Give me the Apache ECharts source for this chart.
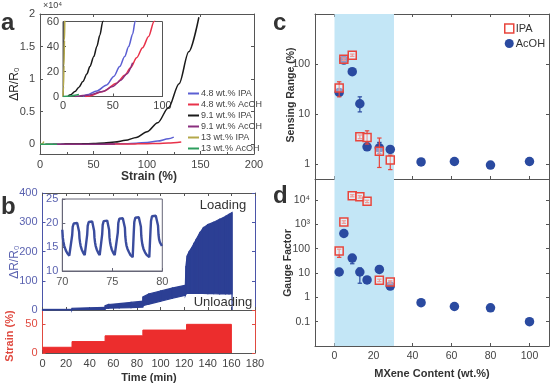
<!DOCTYPE html>
<html><head><meta charset="utf-8">
<script src="https://cdn.jsdelivr.net/npm/echarts@6/dist/echarts.min.js"></script>
<style>html,body{margin:0;padding:0;background:#fff}#c{width:556px;height:386px}</style>
</head><body><div id="c"></div>
<script>
// ---------------- data ----------------
// panel a : strain (%) vs dR/R0
const legendA = ['4.8 wt.% IPA','4.8 wt.% AcOH','9.1 wt.% IPA','9.1 wt.% AcOH','13 wt.% IPA','13 wt.% AcOH'];
const a48IPA  = [[20,0],[24,1.4],[34,4.5],[44,9.3],[51,16],[57,24],[62,32],[66,40],[70,50],[72.5,60],[80,93],[90,160],[100,280],[110,480],[120,830],[125,1100]];
const a48AcOH = [[22,0],[27,0.5],[40,4],[54,10.7],[62,17],[68,23],[74,31],[80,39],[86,48],[91.5,60],[100,85],[110,130],[120,200],[132,350]];
const a91IPA  = [[5,0.5],[8,1.5],[12,4],[16,7.5],[20,12],[24,18],[27,24],[31,32],[34,40],[37,49],[40,60],[50,110],[60,200],[70,340],[80,600],[90,1050],[100,1900],[110,3300],[120,5600],[130,9300],[139,14200],[148.5,19500]];
const a91AcOH = [[12,0],[25,1],[40,4],[50,8],[58,13],[64,18],[70,27]];
const a13IPA  = [[0,0],[0.5,8],[1,25],[1.5,45],[2,70],[2.7,150],[3.5,420]];
const a13AcOH = [[0,0],[4,0.2],[8,0.5],[12,1],[16,1.6]];

// panel b : cyclic test, envelope of dR/R0 (loading / unloading) vs time (min)
const bTime  = [0, 24.9, 25, 53, 53.1, 56, 65, 75, 85, 85.1, 90, 100, 110, 121, 121.5, 122.5, 124, 126, 128, 130, 133, 136, 140, 145, 150, 155, 158, 160.5, 160.6];
const bUpper = [2, 2, 6, 9, 15, 19, 22, 26, 30, 45, 55, 65, 75, 85, 150, 185, 198, 210, 225, 240, 262, 280, 292, 300, 310, 320, 327, 333, 0];
const bLower = [0, 0, 1, 2, 5, 6, 7, 8, 10, 15, 20, 30, 40, 50, 55, 57, 57, 57, 57, 57, 57, 57, 56, 56, 55, 55, 55, 55, 0];
const strainT = [0, 25, 53, 85, 122, 160];
const strainV = [10, 20, 30, 40, 50, 0];
// inset b (70-80 min)
const insetT = [70.0,70.05,70.1,70.2,70.35,70.5,70.7,70.9,
 70.94,70.99,71.04,71.14,71.29,71.49,71.62,71.68,71.72,71.77,71.84,71.94,72.09,72.24,72.39,
 72.44,72.49,72.54,72.64,72.79,72.99,73.12,73.18,73.22,73.27,73.34,73.44,73.59,73.74,73.89,
 73.94,73.99,74.04,74.14,74.29,74.49,74.62,74.68,74.72,74.77,74.84,74.94,75.09,75.24,75.44,
 75.5,75.55,75.6,75.7,75.85,76.05,76.2,76.26,76.3,76.35,76.42,76.52,76.67,76.82,77.04,
 77.1,77.15,77.2,77.3,77.45,77.65,77.8,77.86,77.9,77.95,78.02,78.12,78.27,78.45,78.7,
 78.77,78.82,78.87,78.97,79.12,79.35,79.5,79.57,79.62,79.68,79.76,79.86,79.96];
const insetV = [18.6,17.0,16.2,15.2,14.3,13.7,13.2,12.9,
 13.0,17.5,19.2,19.9,20.0,20.0,19.6,18.2,16.8,16.0,15.2,14.5,13.8,13.3,13.0,
 12.9,17.6,19.4,20.2,20.3,20.3,19.9,18.4,16.9,16.0,15.2,14.5,13.8,13.3,12.9,
 12.9,17.7,19.6,20.4,20.5,20.5,20.1,18.6,17.0,16.1,15.3,14.5,13.8,13.3,12.9,
 12.9,18.0,20.0,20.9,21.0,21.0,20.6,19.0,17.2,16.2,15.3,14.6,13.9,13.3,12.9,
 12.9,18.2,20.2,21.1,21.2,21.2,20.8,19.2,17.3,16.3,15.4,14.6,13.9,13.3,12.9,
 12.9,18.4,20.4,21.4,21.5,21.5,21.1,19.5,17.6,16.6,16.0,15.6,15.2];

// panels c, d : MXene content (wt.%)
const mxIPA   = [2.4, 4.8, 9.1, 13, 16.7, 23, 28.6];
const srIPA   = [33, 125, 150, 3.5, 3.4, 1.8, 1.2];
const srIPAlo = [22, 118, 142, 3.2, 2.5, 0.85, 0.77];
const srIPAhi = [44, 132, 158, 3.8, 4.6, 3.3, 1.5];
const gfIPA   = [80, 1250, 15000, 13500, 8800, 5, 4.3];
const gfIPAlo = [44, 1100, 13500, 12000, 7800, 4.4, 3.8];
const gfIPAhi = [95, 1400, 16500, 15000, 9800, 5.6, 4.8];
const mxAcOH  = [2.4, 4.8, 9.1, 13, 16.7, 23, 28.6, 44.4, 61.5, 80, 100];
const srAcOH  = [27, 120, 70, 16, 2.2, 2.1, 1.95, 1.1, 1.12, 0.95, 1.12];
const srAcOHlo= [24, 115, 66, 11, 2.0, 1.6, 1.75, 1.0, 1.02, 0.88, 1.0];
const srAcOHhi= [30, 125, 74, 22, 2.4, 2.7, 2.2, 1.2, 1.22, 1.02, 1.3];
const gfAcOH  = [11, 420, 41, 11, 5.2, 14, 2.9, 0.6, 0.42, 0.37, 0.1];
const gfAcOHlo= [10, 390, 24, 3.8, 4.8, 13, 2.7, 0.56, 0.4, 0.35, 0.095];
const gfAcOHhi= [12, 450, 45, 16, 5.6, 15, 3.1, 0.64, 0.44, 0.39, 0.105];
const shadeRange = [0, 30.5];

// ---------------- helpers ----------------
const FONT = '"Liberation Sans", "DejaVu Sans", Arial, sans-serif';
const TXT = '#444', AX = '#555', BLUE = '#2c3f94', BLUEL = '#5a62b0', RED = '#ec2d2d', IPAC = '#e8453c', ACC = '#2a4aa0';
function merge(a, b) {
  const r = Object.assign({}, a);
  for (const k in b) {
    if (b[k] && typeof b[k] === 'object' && !Array.isArray(b[k]) && a[k] && typeof a[k] === 'object') r[k] = merge(a[k], b[k]);
    else r[k] = b[k];
  }
  return r;
}
function ax(o, col) {
  col = col || AX;
  return merge({
    type: 'value', splitLine: { show: false },
    axisLine: { show: true, onZero: false, lineStyle: { color: col, width: 1 } },
    axisTick: { show: true, inside: true, length: 3, lineStyle: { color: col } },
    axisLabel: { color: TXT, fontSize: 11, fontFamily: FONT, margin: 5 }
  }, o);
}
function logLab(v) {
  const e = Math.round(Math.log10(v));
  if (e >= 3) return '10' + (e === 3 ? '³' : '⁴');
  if (e >= 0) return String(Math.pow(10, e));
  return e === -1 ? '0.1' : '0.01';
}
function errBar(color) {
  return function (params, api) {
    const x = api.value(0), lo = api.value(1), hi = api.value(2);
    const p1 = api.coord([x, lo]), p2 = api.coord([x, hi]);
    const w = 2.2, st = { stroke: color, lineWidth: 1.2 };
    return { type: 'group', children: [
      { type: 'line', shape: { x1: p1[0], y1: p1[1], x2: p2[0], y2: p2[1] }, style: st },
      { type: 'line', shape: { x1: p1[0] - w, y1: p1[1], x2: p1[0] + w, y2: p1[1] }, style: st },
      { type: 'line', shape: { x1: p2[0] - w, y1: p2[1], x2: p2[0] + w, y2: p2[1] }, style: st }
    ] };
  };
}
function zip3(x, a, b) { return x.map((v, i) => [v, a[i], b[i]]); }
function zip2(x, a) { return x.map((v, i) => [v, a[i]]); }

const gridBase = { outerBoundsMode: 'none', containLabel: false };
const grid = [
  merge(gridBase, { left: 40, top: 14, width: 214, height: 140 }),
  merge(gridBase, { left: 63, top: 21.5, width: 99.5, height: 75, show: true, borderColor: AX, borderWidth: 1 }),
  merge(gridBase, { left: 42.5, top: 193, width: 212.5, height: 117 }),
  merge(gridBase, { left: 42.5, top: 310, width: 212.5, height: 43 }),
  merge(gridBase, { left: 62.3, top: 199, width: 100, height: 72, show: true, borderColor: '#667', borderWidth: 1 }),
  merge(gridBase, { left: 315, top: 14, width: 234, height: 165 }),
  merge(gridBase, { left: 315, top: 179, width: 234, height: 167 })
];
const noLab = { axisLabel: { show: false } };
const xAxis = [
  ax({ gridIndex: 0, min: 0, max: 200, interval: 50, minorTick: { show: true, splitNumber: 2, length: 2 } }),
  ax(merge({ gridIndex: 0, position: 'top', min: 0, max: 200, interval: 50 }, noLab)),
  ax({ gridIndex: 1, min: 0, max: 100, interval: 50, axisLabel: { margin: 4 } }),
  ax(merge({ gridIndex: 2, min: 0, max: 180, interval: 20 }, noLab)),
  ax(merge({ gridIndex: 2, position: 'top', min: 0, max: 180, interval: 20 }, noLab)),
  ax({ gridIndex: 3, min: 0, max: 180, interval: 20 }),
  ax({ gridIndex: 4, min: 70, max: 80, interval: 5, axisLabel: { color: '#555', margin: 5 } }, '#667'),
  ax(merge({ gridIndex: 5, min: -10, max: 110 }, noLab)),
  ax(merge({ gridIndex: 5, position: 'top', min: -10, max: 110 }, noLab)),
  ax({ gridIndex: 6, min: -10, max: 110, axisLabel: { showMinLabel: false, showMaxLabel: false, fontSize: 10.5 } })
];
const logAx = (o) => ax(merge({ type: 'log', logBase: 10, axisLabel: { formatter: logLab, showMinLabel: false, showMaxLabel: false, fontSize: 10.5 } }, o));
const yAxis = [
  ax({ gridIndex: 0, min: -1500, max: 20000, axisLabel: { formatter: v => String(v / 10000), showMinLabel: false } }),
  ax(merge({ gridIndex: 0, position: 'right', min: -1500, max: 20000 }, noLab)),
  ax({ gridIndex: 1, min: 0, max: 60, interval: 20, axisLabel: { margin: 4 } }),
  ax({ gridIndex: 2, min: 0, max: 400, interval: 100, axisLabel: { color: BLUEL } }, '#4b55a8'),
  ax(merge({ gridIndex: 2, position: 'right', min: 0, max: 400, interval: 100 }, noLab), '#4b55a8'),
  ax({ gridIndex: 3, min: 0, max: 75, interval: 50, axisLabel: { color: '#e04a40', showMaxLabel: false } }, '#e04a40'),
  ax(merge({ gridIndex: 3, position: 'right', min: 0, max: 75, interval: 50 }, noLab), '#e04a40'),
  ax({ gridIndex: 4, min: 10, max: 25, interval: 5, axisLabel: { color: BLUEL, margin: 4 } }, '#667'),
  logAx({ gridIndex: 5, min: 0.5, max: 1000 }),
  logAx(merge({ gridIndex: 5, position: 'right', min: 0.5, max: 1000 }, noLab)),
  logAx({ gridIndex: 6, min: 0.01, max: 73000 }),
  logAx(merge({ gridIndex: 6, position: 'right', min: 0.01, max: 73000 }, noLab))
];

// ---------------- series ----------------
const series = [];
const aCols = ['#5b5fd3', '#e8324a', '#1a1a1a', '#8a2f7e', '#b4a84a', '#2e9e5e'];
[a48IPA, a48AcOH, a91IPA, a91AcOH, a13IPA, a13AcOH].forEach((d, i) => {
  [[0, 0], [2, 2]].forEach(([xi, yi]) => {
    series.push({ type: 'line', name: legendA[i], xAxisIndex: xi, yAxisIndex: yi, data: d, showSymbol: false,
      smooth: 0.3, smoothMonotone: 'x', clip: true, lineStyle: { color: aCols[i], width: 1.5 }, itemStyle: { color: aCols[i] }, z: 3 });
  });
});
// band of panel b (between unloading and loading envelopes)
const bandSeg = bTime.slice(0, -1).map((t, i) => [t, bLower[i], bUpper[i], bTime[i + 1], bLower[i + 1], bUpper[i + 1]]);
series.push({ type: 'custom', xAxisIndex: 3, yAxisIndex: 3, data: bandSeg, encode: { x: [0, 3], y: [1, 2, 4, 5] }, silent: true, z: 2,
  renderItem: function (p, api) {
    const a = api.coord([api.value(0), api.value(1)]), b = api.coord([api.value(0), api.value(2)]);
    const c = api.coord([api.value(3), api.value(5)]), d = api.coord([api.value(3), api.value(4)]);
    return { type: 'polygon', shape: { points: [a, b, c, d] }, style: { fill: BLUE, stroke: BLUE, lineWidth: 1.2 } };
  } });
// strain
series.push({ type: 'line', xAxisIndex: 5, yAxisIndex: 5, step: 'end', data: zip2(strainT, strainV), showSymbol: false,
  lineStyle: { color: RED, width: 1 }, areaStyle: { color: RED, opacity: 1 }, silent: true });
// inset b
series.push({ type: 'line', xAxisIndex: 6, yAxisIndex: 7, data: zip2(insetT, insetV), showSymbol: false, clip: true,
  lineStyle: { color: '#3a4c9e', width: 2.4 }, silent: true, z: 4 });
// c and d
function cdSeries(xi, yi, ipa, ipaLo, ipaHi, ac, acLo, acHi) {
  series.push({ type: 'scatter', xAxisIndex: xi, yAxisIndex: yi, data: [], silent: true, z: 1,
    markArea: { silent: true, itemStyle: { color: '#c3e6f6' }, data: [[{ xAxis: shadeRange[0] }, { xAxis: shadeRange[1] }]] } });
  series.push({ type: 'custom', xAxisIndex: xi, yAxisIndex: yi, renderItem: errBar(ACC), data: zip3(mxAcOH, acLo, acHi), encode: { x: 0, y: [1, 2] }, z: 3, silent: true });
  series.push({ type: 'scatter', name: 'AcOH', xAxisIndex: xi, yAxisIndex: yi, data: zip2(mxAcOH, ac), symbol: 'circle', symbolSize: 9.5,
    itemStyle: { color: ACC, opacity: 1 }, z: 4 });
  series.push({ type: 'custom', xAxisIndex: xi, yAxisIndex: yi, renderItem: errBar(IPAC), data: zip3(mxIPA, ipaLo, ipaHi), encode: { x: 0, y: [1, 2] }, z: 5, silent: true });
  series.push({ type: 'scatter', name: 'IPA', xAxisIndex: xi, yAxisIndex: yi, data: zip2(mxIPA, ipa), symbol: 'rect', symbolSize: 8,
    itemStyle: { color: 'rgba(255,255,255,0.45)', borderColor: IPAC, borderWidth: 1.5, opacity: 1 }, z: 6 });
}
cdSeries(7, 8, srIPA, srIPAlo, srIPAhi, srAcOH, srAcOHlo, srAcOHhi);
cdSeries(9, 10, gfIPA, gfIPAlo, gfIPAhi, gfAcOH, gfAcOHlo, gfAcOHhi);

// ---------------- texts ----------------
function T(x, y, text, o) {
  o = o || {};
  return { type: 'text', x: x, y: y, rotation: o.rot || 0, z: 100,
    style: { text: text, fill: o.color || '#333', font: (o.bold ? 'bold ' : '') + (o.size || 11) + 'px ' + FONT,
      textAlign: o.align || 'center', align: o.align || 'center', textVerticalAlign: 'middle', verticalAlign: 'middle' } };
}
const R = Math.PI / 2;
const graphic = [
  T(1, 23, 'a', { bold: true, size: 24, align: 'left' }),
  T(1, 207, 'b', { bold: true, size: 24, align: 'left' }),
  T(273, 23, 'c', { bold: true, size: 24, align: 'left' }),
  T(273, 196, 'd', { bold: true, size: 24, align: 'left' }),
  T(43, 6, '×10⁴', { size: 9, align: 'left', color: '#444' }),
  T(15, 84, 'ΔR/R₀', { rot: R, size: 12, color: '#222' }),
  T(149, 177, 'Strain (%)', { bold: true, size: 12 }),
  T(15, 262, 'ΔR/R₀', { rot: R, size: 12, color: BLUEL }),
  T(10, 336, 'Strain (%)', { rot: R, size: 11, bold: true, color: '#e04a40' }),
  T(149, 378, 'Time (min)', { bold: true, size: 11 }),
  T(223, 205, 'Loading', { size: 13 }),
  T(223, 302, 'Unloading', { size: 13 }),
  T(291, 95, 'Sensing Range (%)', { rot: R, bold: true, size: 10.5 }),
  T(288, 263, 'Gauge Factor', { rot: R, bold: true, size: 10.5 }),
  T(432, 374, 'MXene Content (wt.%)', { bold: true, size: 11 })
];

const chart = echarts.init(document.getElementById('c'), null, { renderer: 'canvas' });
chart.setOption({
  backgroundColor: '#fff', animation: false, grid, xAxis, yAxis, series, graphic,
  legend: [
    { left: 183, top: 84, orient: 'vertical', itemWidth: 11, itemHeight: 2, itemGap: 2, icon: 'rect',
      textStyle: { fontSize: 9, color: '#444', fontFamily: FONT, lineHeight: 9, padding: [0, 0, 0, -3] }, data: legendA, selectedMode: false },
    { left: 499, top: 18, orient: 'vertical', itemWidth: 9, itemHeight: 9, itemGap: 4, selectedMode: false,
      textStyle: { fontSize: 11, color: '#333', fontFamily: FONT, padding: [0, 0, 0, -3] },
      data: [{ name: 'IPA', icon: 'rect', itemStyle: { color: '#fff', borderColor: IPAC, borderWidth: 1.5 } },
             { name: 'AcOH', icon: 'circle', itemStyle: { color: ACC } }] }
  ]
});
</script></body></html>
